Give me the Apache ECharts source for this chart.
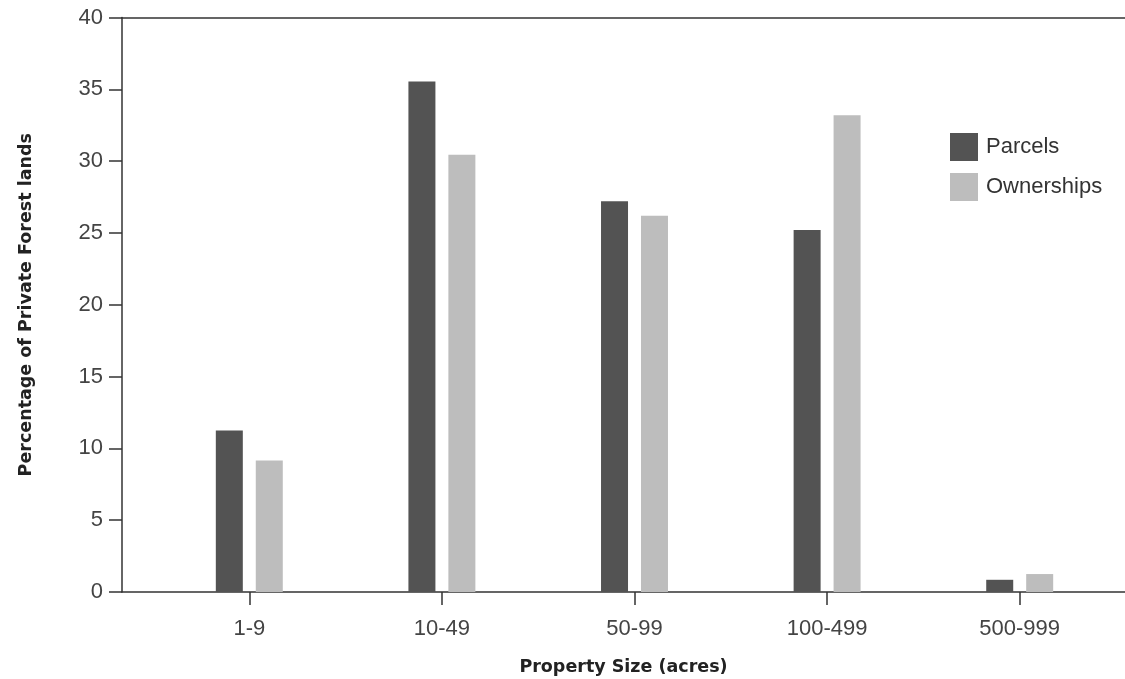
<!DOCTYPE html>
<html>
<head>
<meta charset="utf-8">
<script src="https://cdn.jsdelivr.net/npm/echarts@6/dist/echarts.min.js"></script>
<style>html,body{margin:0;padding:0;background:#fff;}#chart{width:1125px;height:679px;}</style>
</head>
<body>
<div id="chart"></div>
<script>
const categories = ['1-9', '10-49', '50-99', '100-499', '500-999'];
const parcels = [11.25, 35.55, 27.2, 25.2, 0.85];
const ownerships = [9.15, 30.45, 26.2, 33.2, 1.25];
const seriesNames = ['Parcels', 'Ownerships'];
const yMin = 0, yMax = 40, yStep = 5;

const chart = echarts.init(document.getElementById('chart'));
const labelFont = 'Liberation Sans, Arial, sans-serif';
const titleFont = 'DejaVu Sans, sans-serif';
const axisColor = '#333';

chart.setOption({
  animation: false,
  backgroundColor: '#fff',
  grid: [
    { left: 153, right: 9, top: 17.5, bottom: 87, containLabel: false, outerBoundsMode: 'none' },
    { left: 122, right: 0, top: 17.5, bottom: 87, containLabel: false, outerBoundsMode: 'none' }
  ],
  legend: {
    orient: 'vertical',
    left: 950, top: 133, padding: 0,
    itemWidth: 28, itemHeight: 28, itemGap: 12,
    icon: 'rect',
    data: seriesNames,
    textStyle: { fontSize: 22, color: '#333', fontFamily: labelFont, padding: [0, 0, 0, 3] }
  },
  xAxis: [
    {
      type: 'category', gridIndex: 0, data: categories,
      axisLine: { show: false },
      axisTick: { show: true, alignWithLabel: true, length: 13, lineStyle: { color: axisColor, width: 1.5 } },
      axisLabel: { fontSize: 22, color: '#444', fontFamily: labelFont, margin: 26 },
      splitLine: { show: false }
    },
    {
      type: 'value', gridIndex: 1, min: 0, max: 1, position: 'bottom',
      axisLine: { show: true, lineStyle: { color: axisColor, width: 1.5 } },
      axisTick: { show: false }, axisLabel: { show: false }, splitLine: { show: false },
      name: 'Property Size (acres)', nameLocation: 'middle', nameGap: 66,
      nameTextStyle: { fontSize: 17.5, fontWeight: 'bold', color: '#222', fontFamily: titleFont }
    },
    {
      type: 'value', gridIndex: 1, min: 0, max: 1, position: 'top',
      axisLine: { show: true, lineStyle: { color: axisColor, width: 1.5 } },
      axisTick: { show: false }, axisLabel: { show: false }, splitLine: { show: false }
    }
  ],
  yAxis: [
    {
      type: 'value', gridIndex: 0, min: yMin, max: yMax, interval: yStep,
      show: false
    },
    {
      type: 'value', gridIndex: 1, min: yMin, max: yMax, interval: yStep,
      axisLine: { show: true, lineStyle: { color: axisColor, width: 1.5 } },
      axisTick: { show: true, length: 13, lineStyle: { color: axisColor, width: 1.5 } },
      axisLabel: { fontSize: 22, color: '#444', fontFamily: labelFont, margin: 19 },
      splitLine: { show: false },
      name: 'Percentage of Private Forest lands', nameLocation: 'middle', nameGap: 87,
      nameTextStyle: { fontSize: 17.5, fontWeight: 'bold', color: '#222', fontFamily: titleFont }
    }
  ],
  series: [
    {
      name: seriesNames[0], type: 'bar', xAxisIndex: 0, yAxisIndex: 0,
      data: parcels, barWidth: 27, barGap: '48%',
      itemStyle: { color: '#535353' }
    },
    {
      name: seriesNames[1], type: 'bar', xAxisIndex: 0, yAxisIndex: 0,
      data: ownerships, barWidth: 27, barGap: '48%',
      itemStyle: { color: '#bdbdbd' }
    }
  ]
});
</script>
</body>
</html>
